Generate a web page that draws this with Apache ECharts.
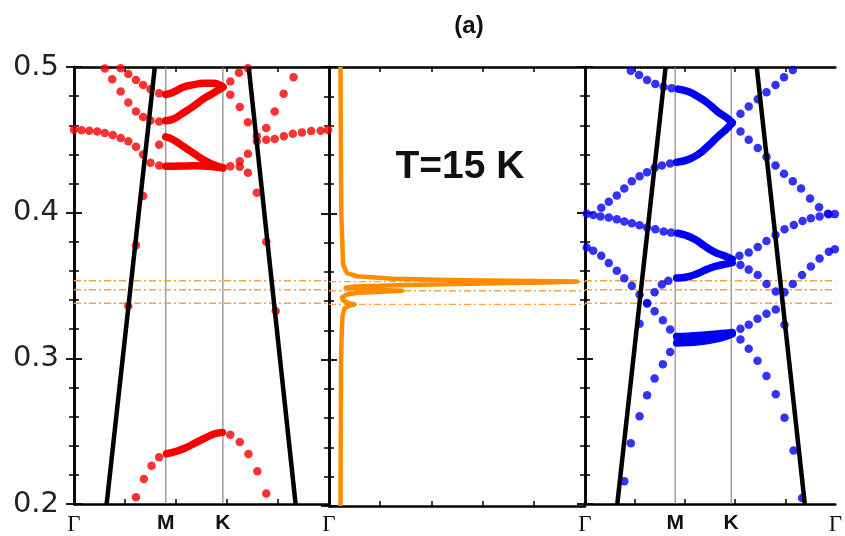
<!DOCTYPE html>
<html><head><meta charset="utf-8">
<script src="https://cdn.jsdelivr.net/npm/echarts@6/dist/echarts.min.js"></script>
<style>html,body{margin:0;padding:0;background:#fff}#c{width:845px;height:536px}</style>
</head><body><div id="c"></div>
<script>
// ---------------- data (energy in y, k-path position 0..1 per panel in x) ----------------
const yTicks = [0.2, 0.3, 0.4, 0.5];
const kPos = [0, 0.36, 0.584, 1];
const kLabels = ['Γ', 'M', 'K', 'Γ'];
const refLevels = [0.3533, 0.3471, 0.3378];
const titleText = '(a)';
const tempText = 'T=15 K';

// light lines (black)
const lightLeftA = [[0.128, 0.2], [0.317, 0.5]];
const lightLeftB = [[0.685, 0.5], [0.869, 0.2]];
const lightRightA = [[0.129, 0.2], [0.322, 0.5]];
const lightRightB = [[0.686, 0.5], [0.878, 0.2]];

// red (left panel) isolated dots
const redDots = [
  [0.121,0.4990],[0.150,0.4916],[0.183,0.4831],[0.213,0.4756],[0.243,0.4695],[0.271,0.4656],[0.300,0.4633],[0.334,0.4626],
  [0.183,0.4991],[0.213,0.4952],[0.243,0.4911],[0.271,0.4877],[0.300,0.4848],[0.334,0.4820],
  [0.000,0.4570],[0.030,0.4565],[0.060,0.4563],[0.091,0.4558],[0.121,0.4547],[0.152,0.4534],[0.183,0.4513],[0.213,0.4490],
  [0.243,0.4452],[0.271,0.4399],[0.300,0.4342],[0.334,0.4324],[0.334,0.4467],
  [0.613,0.4900],[0.613,0.4809],[0.647,0.4961],[0.682,0.4991],[0.650,0.4725],[0.682,0.4620],[0.717,0.4524],[0.717,0.4490],
  [0.754,0.4581],[0.787,0.4695],[0.822,0.4816],[0.861,0.4930],
  [0.754,0.4501],[0.787,0.4506],[0.823,0.4524],[0.858,0.4542],[0.894,0.4551],[0.930,0.4561],[0.967,0.4563],[0.996,0.4568],
  [0.613,0.4319],[0.650,0.4353],[0.650,0.4315],[0.682,0.4404],[0.682,0.4274],[0.717,0.4137],[0.754,0.3800],[0.791,0.3325],
  [0.271,0.4114],[0.243,0.3777],[0.213,0.3359],
  [0.243,0.2047],[0.274,0.2172],[0.304,0.2263],[0.334,0.2321],
  [0.613,0.2475],[0.650,0.2425],[0.684,0.2343],[0.719,0.2225],[0.754,0.2072]
];
// red dense branches between M and K
const redUpperTop = [[0.360,0.4811],[0.389,0.4827],[0.428,0.4861],[0.467,0.4877],[0.506,0.4889],[0.545,0.4889],[0.571,0.4877],[0.584,0.4865]];
const redUpperBot = [[0.360,0.4631],[0.389,0.4643],[0.428,0.4684],[0.467,0.4729],[0.506,0.4779],[0.545,0.4820],[0.584,0.4861]];
const redLowerTop = [[0.360,0.4520],[0.389,0.4501],[0.428,0.4456],[0.467,0.4411],[0.506,0.4365],[0.545,0.4331],[0.584,0.4308]];
const redLowerBot = [[0.360,0.4319],[0.389,0.4319],[0.428,0.4320],[0.467,0.4322],[0.506,0.4320],[0.545,0.4315],[0.584,0.4308]];
const redBottom = [[0.363,0.2345],[0.402,0.2362],[0.441,0.2389],[0.480,0.2423],[0.519,0.2457],[0.552,0.2482],[0.582,0.2491]];

// blue (right panel) isolated dots
const blueDots = [
  [0.183,0.4975],[0.216,0.4945],[0.248,0.4911],[0.281,0.4884],[0.314,0.4865],[0.346,0.4854],
  [0.007,0.3992],[0.065,0.4034],[0.095,0.4075],[0.127,0.4118],[0.157,0.4166],[0.187,0.4216],[0.218,0.4250],[0.248,0.4278],[0.278,0.4308],[0.307,0.4323],[0.340,0.4337],
  [0.621,0.4679],[0.654,0.4729],[0.690,0.4779],[0.725,0.4827],[0.761,0.4877],[0.795,0.4930],[0.830,0.4979],
  [0.621,0.4558],[0.654,0.4501],[0.690,0.4444],[0.725,0.4383],[0.761,0.4323],[0.795,0.4267],[0.830,0.4216],[0.863,0.4166],[0.899,0.4098],[0.935,0.4038],[0.970,0.3993],[0.998,0.3990],
  [0.033,0.3984],[0.062,0.3973],[0.095,0.3966],[0.127,0.3954],[0.157,0.3939],[0.187,0.3927],[0.218,0.3913],[0.248,0.3898],[0.281,0.3886],[0.314,0.3870],[0.344,0.3863],
  [0.617,0.3704],[0.654,0.3727],[0.690,0.3765],[0.725,0.3806],[0.761,0.3847],[0.797,0.3886],[0.834,0.3915],[0.869,0.3943],[0.902,0.3961],[0.937,0.3973],[0.974,0.3989],
  [0.333,0.3533],[0.307,0.3507],[0.278,0.3453],[0.248,0.3380],
  [0.621,0.3640],[0.654,0.3609],[0.690,0.3572],[0.725,0.3510],[0.762,0.3458],[0.797,0.3453],[0.830,0.3510],[0.867,0.3572],[0.902,0.3631],[0.937,0.3686],[0.974,0.3731],[0.998,0.3749],
  [0.007,0.3761],[0.033,0.3739],[0.065,0.3704],[0.095,0.3654],[0.127,0.3601],[0.157,0.3549],[0.187,0.3499],[0.218,0.3438],[0.248,0.3377],[0.278,0.3324],[0.311,0.3262],[0.340,0.3198],
  [0.218,0.3237],[0.797,0.3230],
  [0.340,0.3043],[0.311,0.2959],[0.278,0.2861],[0.248,0.2747],[0.218,0.2603],[0.183,0.2417],[0.157,0.2157],
  [0.621,0.3130],[0.654,0.3066],[0.689,0.2984],[0.725,0.2879],[0.762,0.2754],[0.797,0.2592],[0.833,0.2367],[0.867,0.2041],
  [0.621,0.3203],[0.654,0.3230],[0.689,0.3271],[0.725,0.3306],[0.762,0.3335]
];
// blue dense branches between M and K
const blueTopUpper = [[0.373,0.4848],[0.412,0.4831],[0.451,0.4797],[0.490,0.4752],[0.529,0.4695],[0.562,0.4656],[0.588,0.4619]];
const blueTopLower = [[0.366,0.4346],[0.412,0.4364],[0.451,0.4399],[0.490,0.4455],[0.529,0.4520],[0.562,0.4569],[0.588,0.4615]];
const blueMidUpper = [[0.370,0.3859],[0.399,0.3847],[0.438,0.3818],[0.477,0.3772],[0.516,0.3731],[0.556,0.3704],[0.588,0.3681]];
const blueMidLower = [[0.366,0.3551],[0.412,0.3560],[0.451,0.3583],[0.490,0.3613],[0.529,0.3635],[0.562,0.3647],[0.588,0.3657]];
const blueLowUpper = [[0.366,0.3150],[0.412,0.3152],[0.451,0.3157],[0.490,0.3162],[0.529,0.3168],[0.562,0.3173],[0.588,0.3178]];
const blueLowLower = [[0.366,0.3105],[0.412,0.3108],[0.451,0.3113],[0.490,0.3122],[0.529,0.3135],[0.562,0.3150],[0.588,0.3168]];

// spectrum in the middle panel: energy vs intensity (0..1)
const specE = [0.200,0.260,0.300,0.320,0.330,0.335,0.3368,0.3378,0.3388,0.3405,0.3425,0.3445,0.3458,0.3466,0.3471,0.3476,0.3484,0.3492,0.3500,0.3511,0.3521,0.3528,0.3534,0.3538,0.3543,0.3553,0.3570,0.3592,0.3650,0.400,0.450,0.500];
const specI = [0.045,0.046,0.047,0.050,0.053,0.060,0.080,0.100,0.075,0.055,0.050,0.070,0.120,0.220,0.285,0.210,0.110,0.065,0.100,0.300,0.600,0.850,0.969,0.800,0.520,0.250,0.110,0.070,0.055,0.048,0.046,0.045];

// ---------------- chart ----------------
const chart = echarts.init(document.getElementById('c'), null, {renderer: 'canvas'});
const grids = [
  {left: 74, top: 67, width: 255, height: 439},
  {left: 329, top: 67, width: 256, height: 439},
  {left: 585, top: 67, width: 255, height: 439}
];
const AX = '#000';
function xAxes(gi, withLabels) {
  const bottom = {
    type: 'value', gridIndex: gi, min: 0, max: 1, position: 'bottom',
    axisLine: {show: true, lineStyle: {color: AX, width: 2.5}},
    axisTick: {show: true, inside: true, length: 5, customValues: [0.2, 0.4, 0.6, 0.8], lineStyle: {color: AX, width: 1.5}},
    splitLine: {show: false},
    axisLabel: withLabels ? {
      show: true, margin: 9, customValues: kPos,
      formatter: function (v) {
        const i = kPos.indexOf(v);
        if (i < 0) return '';
        return (kLabels[i] === 'Γ' ? '{g|' : '{b|') + kLabels[i] + '}';
      },
      rich: {
        g: {fontFamily: 'Liberation Serif', fontSize: 23, color: '#111'},
        b: {fontFamily: 'Liberation Sans', fontWeight: 'bold', fontSize: 21, color: '#111'}
      }
    } : {show: false}
  };
  const top = {
    type: 'value', gridIndex: gi, min: 0, max: 1, position: 'top',
    axisLine: {show: true, lineStyle: {color: AX, width: 2.5}},
    axisTick: {show: true, inside: true, length: 5, customValues: [0.2, 0.4, 0.6, 0.8], lineStyle: {color: AX, width: 1.5}},
    splitLine: {show: false}, axisLabel: {show: false}
  };
  return [bottom, top];
}
function yAxes(gi, withLabels) {
  const base = {
    type: 'value', gridIndex: gi, min: 0.2, max: 0.5, interval: 0.1,
    axisLine: {show: true, lineStyle: {color: AX, width: 2.5}},
    axisTick: {show: true, inside: true, length: 8, lineStyle: {color: AX, width: 1.8}},
    minorTick: {show: true, splitNumber: 5, length: 5, lineStyle: {color: AX, width: 1.5}},
    splitLine: {show: false}, minorSplitLine: {show: false}
  };
  const left = Object.assign({}, base, {position: 'left',
    axisLabel: withLabels ? {show: true, margin: 15, fontSize: 29, fontFamily: 'DejaVu Sans', color: '#222',
      customValues: yTicks, formatter: v => v.toFixed(1)} : {show: false}});
  const right = Object.assign({}, base, {position: 'right', axisLabel: {show: false}});
  return [left, right];
}
const xAxis = [].concat(xAxes(0, true), xAxes(1, false), xAxes(2, true));
const yAxis = [].concat(yAxes(0, true), yAxes(1, false), yAxes(2, false));

function plain(gi, data, style, z) {
  return {type: 'line', xAxisIndex: gi * 2, yAxisIndex: gi * 2, data: data, showSymbol: false, silent: true,
    lineStyle: style, z: z, animation: false};
}
function refLines(gi, withK) {
  const out = refLevels.map(v => plain(gi, [[0, v], [1, v]], {color: '#F6A247', width: 1.4, type: [7, 3, 2, 3]}, 2));
  if (withK) {
    [kPos[1], kPos[2]].forEach(v => out.push(plain(gi, [[v, 0.2], [v, 0.5]], {color: '#707070', width: 1}, 1)));
  }
  return out;
}
function dense(gi, data, color) {
  return {type: 'line', xAxisIndex: gi * 2, yAxisIndex: gi * 2, data: data, smooth: true, showSymbol: false,
    lineStyle: {color: color, width: 7.5, cap: 'round'}, z: 3, animation: false};
}
function lightLine(gi, data) {
  return plain(gi, data, {color: '#000', width: 4.5}, 5);
}
const RED = '#F80000', BLUE = '#0000F5';
const series = [].concat(
  refLines(0, true), refLines(1, false), refLines(2, true),
  [
    {type: 'scatter', xAxisIndex: 0, yAxisIndex: 0, data: redDots, symbolSize: 8.5, itemStyle: {color: RED}, z: 3, animation: false},
    dense(0, redUpperTop, RED), dense(0, redUpperBot, RED), dense(0, redLowerTop, RED), dense(0, redLowerBot, RED), dense(0, redBottom, RED),
    lightLine(0, lightLeftA), lightLine(0, lightLeftB),
    {type: 'line', xAxisIndex: 2, yAxisIndex: 2, data: specE.map((e, i) => [specI[i], e]), showSymbol: false,
      lineStyle: {color: '#FF8C00', width: 4.5, join: 'round'}, z: 4, animation: false},
    {type: 'scatter', xAxisIndex: 4, yAxisIndex: 4, data: blueDots, symbolSize: 8.5, itemStyle: {color: BLUE}, z: 3, animation: false},
    dense(2, blueTopUpper, BLUE), dense(2, blueTopLower, BLUE), dense(2, blueMidUpper, BLUE), dense(2, blueMidLower, BLUE),
    dense(2, blueLowUpper, BLUE), dense(2, blueLowLower, BLUE),
    lightLine(2, lightRightA), lightLine(2, lightRightB)
  ]
);

chart.setOption({
  animation: false,
  backgroundColor: '#fff',
  title: [
    {text: titleText, left: 464, top: 9, textAlign: 'center',
      textStyle: {fontSize: 24, fontWeight: 'bold', fontFamily: 'Liberation Sans', color: '#111'}},
    {text: tempText, left: 455, top: 143, textAlign: 'center',
      textStyle: {fontSize: 39, fontWeight: 'bold', fontFamily: 'Liberation Sans', color: '#111'}}
  ],
  grid: grids,
  xAxis: xAxis,
  yAxis: yAxis,
  series: series
});
</script>
</body></html>
